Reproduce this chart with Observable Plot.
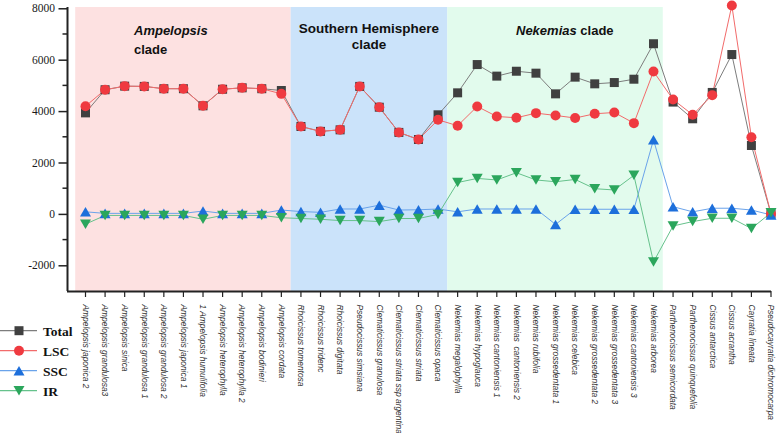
<!DOCTYPE html>
<html>
<head>
<meta charset="utf-8">
<script src="https://cdn.jsdelivr.net/npm/d3@7"></script>
<script src="https://cdn.jsdelivr.net/npm/@observablehq/plot@0.6"></script>
<style>
  html, body { margin: 0; padding: 0; background: #fff; }
  #wrap { position: relative; width: 777px; height: 433px; overflow: hidden; }
  #wrap svg { position: absolute; left: 0; top: 0; }
</style>
</head>
<body>
<div id="wrap"></div>
<script>
// ---- data ----
const species = [
  "Ampelopsis japonica 2", "Ampelopsis grandulosa3", "Ampelopsis sinica", "Ampelopsis grandulosa 1",
  "Ampelopsis grandulosa 2", "Ampelopsis japonica 1", "1 Ampelopsis humulifolia", "Ampelopsis heterophylla",
  "Ampelopsis heterophylla 2", "Ampelopsis bodinieri", "Ampelopsis cordata",
  "Rhoicissus tomentosa", "Rhoicissus tridenc", "Rhoicissus digitata", "Pseudocissus simsiana",
  "Clematicissus granulosa", "Clematicissus striata ssp argentina", "Clematicissus striata", "Clematicissus opaca",
  "Nekemias megalophylla", "Nekemias hypoglauca", "Nekemias cantoniensis 1", "Nekemias  cantoniensis 2",
  "Nekemias rubifolia", "Nekemias grossedentata 1", "Nekemias celebica", "Nekemias grossedentata 2",
  "Nekemias grossedentata 3", "Nekemias cantoniensis 3", "Nekemias arborea",
  "Parthenocissus semicordata", "Parthenocissus quinquefolia", "Cissus antarctica", "Cissus acrantha",
  "Cayratia lineata", "Pseudocayratia dichromocarpa"
];
const total = [3950, 4850, 4990, 4980, 4890, 4890, 4225, 4870, 4925, 4890, 4820,
  3420, 3230, 3290, 4980, 4170, 3190, 2915, 3875,
  4730, 5830, 5380, 5570, 5495, 4690, 5340, 5080, 5130, 5260, 6640,
  4370, 3720, 4745, 6220, 2680, 25];
const lsc = [4210, 4850, 4990, 4980, 4890, 4890, 4225, 4870, 4925, 4890, 4690,
  3420, 3230, 3290, 4980, 4170, 3190, 2915, 3680,
  3450, 4200, 3810, 3760, 3940, 3850, 3750, 3915, 3965, 3550, 5560,
  4470, 3875, 4640, 8130, 3005, 20];
const ssc = [100, 40, 40, 40, 40, 40, 130, 40, 40, 40, 170,
  110, 80, 210, 210, 360, 170, 180, 210,
  100, 210, 210, 210, 210, -390, 200, 200, 200, 200, 2900,
  300, 100, 240, 240, 170, -20];
const ir = [-380, -40, -40, -40, -40, -40, -190, -40, -40, -40, -130,
  -160, -190, -240, -240, -280, -160, -160, 0,
  1240, 1400, 1340, 1620, 1340, 1270, 1360, 1000, 950, 1520, -1850,
  -450, -280, -150, -150, -550, 65];
const cladeNames = ["Ampelopsis clade", "Southern Hemisphere clade", "Nekemias clade"];
const cladeSizes = [11, 8, 11];
const cladeColors = ["#fde1e1", "#cbe3fa", "#e2fbed"];
const yTicks = [-2000, 0, 2000, 4000, 6000, 8000];
const yMinorTicks = [-1000, 1000, 3000, 5000, 7000];

// ---- derived tables ----
const idx = species.map((_, i) => i);
const rows = species.map((s, i) => ({i, s, total: total[i], lsc: lsc[i], ssc: ssc[i], ir: ir[i]}));
let start = 0;
const clades = cladeSizes.map((n, k) => {
  const c = {name: cladeNames[k], x1: start - 0.5, x2: start + n - 0.5, fill: cladeColors[k]};
  start += n;
  return c;
});

// custom symbols centred on bounding box
const rOf = size => Math.sqrt(size / Math.PI);
const sqSym = {draw(ctx, size) { const r = rOf(size) * 0.9; ctx.rect(-r, -r, 2 * r, 2 * r); }};
const upSym = {draw(ctx, size) { const w = rOf(size) * 1.1, h = w * 1.73; ctx.moveTo(0, -h / 2); ctx.lineTo(w, h / 2); ctx.lineTo(-w, h / 2); ctx.closePath(); }};
const dnSym = {draw(ctx, size) { const w = rOf(size) * 1.1, h = w * 1.73; ctx.moveTo(0, h / 2); ctx.lineTo(w, -h / 2); ctx.lineTo(-w, -h / 2); ctx.closePath(); }};
const circSym = d3.symbolCircle;

const series = [
  {key: "total", label: "Total", line: "#7d7d7d", fill: "#404040", sym: sqSym, r: 5},
  {key: "lsc", label: "LSC", line: "#f26b6b", fill: "#ef3a40", sym: circSym, r: 5},
  {key: "ssc", label: "SSC", line: "#6aa3ea", fill: "#1d6fdb", sym: upSym, r: 5},
  {key: "ir", label: "IR", line: "#66c28c", fill: "#2ba65c", sym: dnSym, r: 5}
];

const W = 777, H = 433;
const mL = 67, mR = 6, mT = 7, mB = 142;
// place first category at x=85 and last at x=770.5
const firstX = 85, lastX = 770.5;
const step = (lastX - firstX) / (species.length - 1);
const xDom = [-(firstX - mL) / step, species.length - 1 + (W - mR - lastX) / step];
const yDom = [-3000, 8050];

const marks = [
  Plot.rectX(clades, {x1: "x1", x2: "x2", y1: yDom[0], y2: yDom[1], fill: "fill"}),
];
for (const s of series) {
  marks.push(Plot.line(rows, {x: "i", y: s.key, stroke: s.line, strokeWidth: 1}));
}
for (const s of series) {
  marks.push(Plot.dot(rows, {x: "i", y: s.key, symbol: s.sym, r: s.r, fill: s.fill, stroke: "none"}));
}
marks.push(
  Plot.axisY(yTicks, {tickSize: 8.5, tickPadding: 4, fontSize: 11.5, fontFamily: "Liberation Serif", tickFormat: d => String(d), stroke: "#222", strokeWidth: 1.5, fill: "#1a1a1a", label: null}),
  Plot.axisX(idx, {tickSize: 6, tickPadding: 7, tickRotate: 90, fontSize: 8.4, tickFormat: d => species[d], stroke: "#222", strokeWidth: 1.2, fill: "#333", label: null}),
  Plot.ruleX([xDom[0]], {stroke: "#222", strokeWidth: 2}),
  Plot.ruleY([yDom[0]], {stroke: "#222", strokeWidth: 2})
);

const chart = Plot.plot({
  width: W, height: H,
  marginLeft: mL, marginRight: mR, marginTop: mT, marginBottom: mB,
  x: {type: "linear", domain: xDom},
  y: {domain: yDom},
  style: {background: "transparent", overflow: "visible", fontFamily: "Liberation Sans, Arial, sans-serif"},
  marks
});
document.getElementById("wrap").appendChild(chart);

const xs = chart.scale("x"), ys = chart.scale("y");
const svg = d3.select(chart);
// fonts for axes: y tick labels serif, x tick labels italic sans
const yLabelSet = new Set(yTicks.map(String));
const xLabelSet = new Set(species);
svg.selectAll("text").each(function () {
  const t = this.textContent.replace("\u2212", "-");
  if (yLabelSet.has(t)) d3.select(this).attr("font-family", "Liberation Serif").style("font-family", "'Liberation Serif', 'Times New Roman', serif");
  else if (xLabelSet.has(t)) d3.select(this).style("font-family", "'Liberation Sans', Arial, sans-serif").style("font-style", "italic");
});

// minor ticks on the y axis
const minorG = svg.append("g").attr("stroke", "#222").attr("stroke-width", 1.5);
yMinorTicks.forEach(v => {
  minorG.append("line").attr("x1", mL - 4.5).attr("x2", mL).attr("y1", ys.apply(v)).attr("y2", ys.apply(v));
});

// clade labels
const labelG = svg.append("g").attr("font-family", "Liberation Sans, Arial, sans-serif").attr("font-weight", "bold").attr("fill", "#111").attr("text-anchor", "start");
{
  const t = labelG.append("text").attr("x", 134).attr("y", 35).attr("font-size", 13);
  t.append("tspan").attr("font-style", "italic").text("Ampelopsis");
  labelG.append("text").attr("x", 134).attr("y", 54).attr("font-size", 13).text("clade");
}
{
  const cx = (xs.apply(clades[1].x1) + xs.apply(clades[1].x2)) / 2;
  labelG.append("text").attr("x", cx).attr("y", 33).attr("text-anchor", "middle").attr("font-size", 13.5).text("Southern Hemisphere");
  labelG.append("text").attr("x", cx).attr("y", 49).attr("text-anchor", "middle").attr("font-size", 13.5).text("clade");
}
{
  const t = labelG.append("text").attr("x", 516).attr("y", 35).attr("font-size", 13);
  t.append("tspan").attr("font-style", "italic").text("Nekemias");
  t.append("tspan").text(" clade");
}

// legend
const leg = d3.select("#wrap").append("svg").attr("width", 90).attr("height", 100)
  .style("left", "0px").style("top", "320px");
series.forEach((s, k) => {
  const y = 10.7 + k * 20;
  leg.append("line").attr("x1", 0).attr("x2", 37).attr("y1", y).attr("y2", y).attr("stroke", s.line).attr("stroke-width", 1.2);
  leg.append("path").attr("d", d3.symbol(s.sym, Math.PI * s.r * s.r)()).attr("transform", `translate(19,${y})`).attr("fill", s.fill);
  leg.append("text").attr("x", 43).attr("y", y).attr("dy", "0.36em").attr("font-family", "Liberation Serif").attr("font-weight", "bold").attr("font-size", 13.5).attr("fill", "#111").text(s.label);
});
</script>
</body>
</html>
